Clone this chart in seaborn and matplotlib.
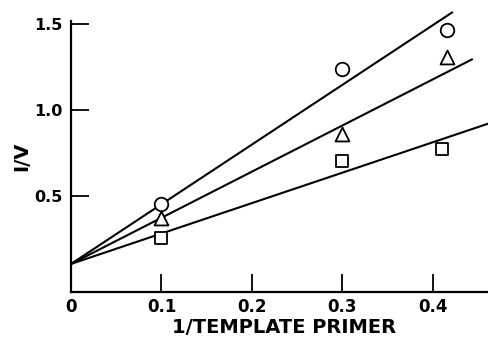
import matplotlib
matplotlib.use('Agg')
import matplotlib.pyplot as plt
import seaborn as sns
import pandas as pd

# Data
x_points = [0.1, 0.3, 0.415]
circle_y = [0.45, 1.24, 1.47]
triangle_y = [0.37, 0.86, 1.31]
square_x = [0.1, 0.3, 0.41]
square_y = [0.25, 0.70, 0.77]

# fitted lines: common intercept, end points
line_x0 = 0.0
line_y0 = 0.10
line_x_end = [0.422, 0.444, 0.461]
line_y_end = [1.573, 1.298, 0.92]

x_ticks = [0, 0.1, 0.2, 0.3, 0.4]
x_tick_labels = ['0', '0.1', '0.2', '0.3', '0.4']
y_ticks = [0.5, 1.0, 1.5]
y_tick_labels = ['0.5', '1.0', '1.5']

sns.set_style('ticks')
plt.rcParams['font.family'] = ['DejaVu Sans']
plt.rcParams['text.color'] = 'black'
plt.rcParams['axes.labelcolor'] = 'black'
plt.rcParams['xtick.color'] = 'black'
plt.rcParams['ytick.color'] = 'black'

fig = plt.figure(figsize=(4.88, 3.37), dpi=100)
ax = fig.add_axes([71 / 488, 45 / 337, 417 / 488, 271 / 337])

for xe, ye in zip(line_x_end, line_y_end):
    ax.plot([line_x0, xe], [line_y0, ye], color='black', lw=1.5,
            solid_capstyle='butt', clip_on=False)

series = [
    (x_points, circle_y, 'o', 95),
    (x_points, triangle_y, '^', 100),
    (square_x, square_y, 's', 85),
]
for xs, ys, m, s in series:
    df = pd.DataFrame({'x': xs, 'y': ys})
    sns.scatterplot(data=df, x='x', y='y', marker=m, s=s,
                    facecolor='white', edgecolor='black',
                    linewidth=1.3, ax=ax, zorder=3, clip_on=False)

ax.set_xlim(0, 0.4608)
ax.set_ylim(-0.064, 1.52)
ax.set_xticks(x_ticks)
ax.set_xticklabels(x_tick_labels, fontweight='bold', fontsize=12)
ax.set_yticks(y_ticks)
ax.set_yticklabels(y_tick_labels, fontweight='bold', fontsize=11.5)
ax.tick_params(axis='both', direction='in', length=13, width=1.3,
               color='black', labelcolor='black')
ax.tick_params(axis='x', pad=4)
ax.tick_params(axis='y', pad=6)
ax.xaxis.get_major_ticks()[0].tick1line.set_visible(False)

for side in ['top', 'right']:
    ax.spines[side].set_visible(False)
for side in ['left', 'bottom']:
    ax.spines[side].set_linewidth(1.6)
    ax.spines[side].set_color('black')

ax.set_xlabel('1/TEMPLATE PRIMER', fontsize=14, fontweight='bold',
              color='black')
ax.xaxis.set_label_coords(0.512, -0.095)
ax.set_ylabel('I/V', fontsize=14, fontweight='bold', labelpad=2,
              color='black')

fig.savefig('out.png', dpi=100)
